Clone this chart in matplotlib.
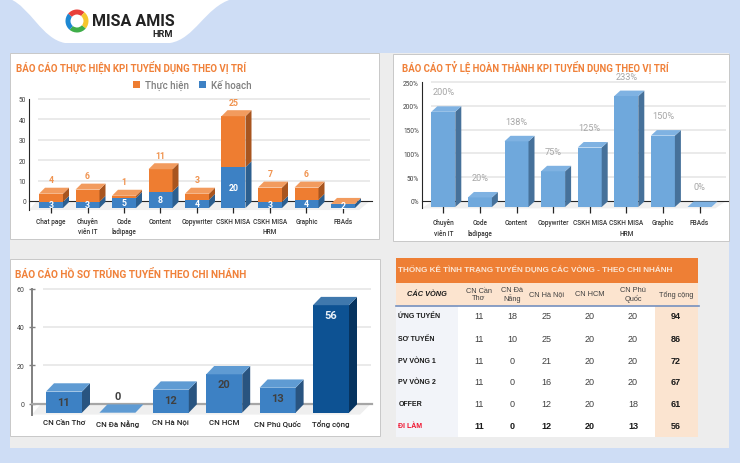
import matplotlib
matplotlib.use("Agg")
import matplotlib.pyplot as plt
from matplotlib.patches import Polygon, Rectangle, PathPatch, Wedge
from matplotlib.path import Path

plt.rcParams['font.family'] = ['Roboto', 'DejaVu Sans']

# chart 1
kpi_positions = ["Chat page", "Chuyên\nviên IT", "Code\nladipage", "Content", "Copywriter",
                 "CSKH MISA", "CSKH MISA\nHRM", "Graphic", "FBAds"]
kpi_plan = [3, 3, 5, 8, 4, 20, 3, 4, 2]
kpi_done = [4, 6, 1, 11, 3, 25, 7, 6, 0]
kpi_ticks = [0, 10, 20, 30, 40, 50]

# chart 2
rate_positions = ["Chuyên\nviên IT", "Code\nladipage", "Content", "Copywriter", "CSKH MISA",
                  "CSKH MISA\nHRM", "Graphic", "FBAds"]
rate_values = [200, 20, 138, 75, 125, 233, 150, 0]
rate_ticks = [0, 50, 100, 150, 200, 250]

# chart 3
branches = ["CN Cần Thơ", "CN Đà Nẵng", "CN Hà Nội", "CN HCM", "CN Phú Quốc", "Tổng cộng"]
hired = [11, 0, 12, 20, 13, 56]
hired_ticks = [0, 20, 40, 60]

# table
table_title = "THỐNG KÊ TÌNH TRẠNG TUYỂN DỤNG CÁC VÒNG - THEO CHI NHÁNH"
table_cols = ["CN Cần\nThơ", "CN Đà\nNẵng", "CN Hà Nội", "CN HCM", "CN Phú\nQuốc", "Tổng cộng"]
table_rows = ["ỨNG TUYỂN", "SƠ TUYỂN", "PV VÒNG 1", "PV VÒNG 2", "OFFER", "ĐI LÀM"]
table_vals = [[11, 18, 25, 20, 20, 94],
              [11, 10, 25, 20, 20, 86],
              [11, 0, 21, 20, 20, 72],
              [11, 0, 16, 20, 20, 67],
              [11, 0, 12, 20, 18, 61],
              [11, 0, 12, 20, 13, 56]]

W, H = 740, 464
ORANGE = "#EE7D31"
BLUE = "#3D81C4"
ARIAL = ['Liberation Sans', 'DejaVu Sans']

fig = plt.figure(figsize=(W / 100, H / 100), dpi=100, facecolor="#CEDDF5")
bg = fig.add_axes([0, 0, 1, 1])
bg.set_xlim(0, W)
bg.set_ylim(H, 0)
bg.axis("off")


def box(x0, y0, x1, y1, color, edge="none", lw=0, z=1):
    bg.add_patch(Rectangle((x0, y0), x1 - x0, y1 - y0, facecolor=color, edgecolor=edge, linewidth=lw, zorder=z))


def px_axes(left, right, top, bottom, x0_px, x_step, y0_px, y_scale):
    # axes placed in pixels, x = category index, y = value
    ax = fig.add_axes([left / W, 1 - bottom / H, (right - left) / W, (bottom - top) / H])
    ax.patch.set_alpha(0)
    ax.set_xlim((left - x0_px) / x_step, (right - x0_px) / x_step)
    ax.set_ylim((y0_px - bottom) / y_scale, (y0_px - top) / y_scale)
    for s in ["top", "right"]:
        ax.spines[s].set_visible(False)
    return ax


def bar3d(ax, x, y0, y1, w, dx, dy, front, side, top=None, z=3):
    ax.bar(x, y1 - y0, w, bottom=y0, color=front, zorder=z, linewidth=0)
    ax.add_patch(Polygon([(x + w / 2, y0), (x + w / 2 + dx, y0 + dy), (x + w / 2 + dx, y1 + dy), (x + w / 2, y1)],
                         facecolor=side, edgecolor="none", zorder=z))
    if top:
        ax.add_patch(Polygon([(x - w / 2, y1), (x + w / 2, y1), (x + w / 2 + dx, y1 + dy), (x - w / 2 + dx, y1 + dy)],
                             facecolor=top, edgecolor="none", zorder=z + 0.5))


def style_axis(ax, yticks, ylabels, xlabels, grid_from, grid_to, floor, tick_len, axis_color, fs, xpad=2.6):
    ax.hlines(yticks[1:], grid_from, grid_to, color="#E6E6E6", lw=1.2, zorder=1)
    ax.spines["bottom"].set_position(("data", 0))
    ax.spines["bottom"].set_color(axis_color)
    ax.spines["left"].set_color(axis_color)
    ax.spines["left"].set_bounds(floor, yticks[-1])
    ax.set_yticks(yticks, ylabels)
    ax.set_xticks(range(len(xlabels)), xlabels)
    ax.tick_params(axis="y", length=0, labelsize=fs, labelcolor="#404040", pad=2)
    ax.tick_params(axis="x", length=tick_len * 0.72, width=0.9, color=axis_color, labelsize=fs,
                   labelcolor="#333333", pad=xpad)
    for lab in ax.get_xticklabels():
        lab.set_linespacing(1.45)
        lab.set_fontweight("medium")


# backgrounds and panels
box(10, 54, 729, 449, "#EDEDED", z=0)
for x0, y0, x1, y1 in [(10, 54, 379, 240), (393, 55, 729, 242), (10, 260, 380, 437)]:
    box(x0, y0, x1, y1, "white", edge="#C8C8C8", lw=0.7)

# logo tab
tab = Path([(10, 0), (30, 8), (42, 40), (65, 44), (170, 44), (195, 40), (205, 8), (232, 0), (10, 0)],
           [Path.MOVETO, Path.CURVE4, Path.CURVE4, Path.CURVE4, Path.LINETO,
            Path.CURVE4, Path.CURVE4, Path.CURVE4, Path.CLOSEPOLY])
bg.add_patch(PathPatch(tab, facecolor="white", edgecolor="none", zorder=1))
for a0, a1, c in [(40, 130, "#3FAE49"), (130, 220, "#1E88D2"), (220, 310, "#E8403A"), (310, 400, "#F6C62D")]:
    bg.add_patch(Wedge((77, 22), 11.5, a0, a1, width=5, facecolor=c, edgecolor="none", zorder=2))
bg.text(92, 22, "MISA AMIS", fontsize=11.6, fontweight="bold", color="#222222", va="center", ha="left", zorder=2)
bg.text(173, 34.5, "HRM", fontsize=6.6, fontweight="bold", color="#222222", va="center", ha="right", zorder=2)

# titles
title_kw = dict(fontweight="bold", color="#F0813A", va="center", ha="left", zorder=2)
bg.text(15.5, 67.5, "BÁO CÁO THỰC HIỆN KPI TUYỂN DỤNG THEO VỊ TRÍ", fontsize=7.0, **title_kw)
bg.text(402.5, 67.5, "BÁO CÁO TỶ LỆ HOÀN THÀNH KPI TUYỂN DỤNG THEO VỊ TRÍ", fontsize=6.95, **title_kw)
bg.text(15, 274.5, "BÁO CÁO HỒ SƠ TRÚNG TUYỂN THEO CHI NHÁNH", fontsize=7.3, **title_kw)

# chart 1: stacked bars
scale1, step1 = 2.04, 36.5
ax1 = px_axes(29, 372, 92, 215, 51, step1, 202, scale1)
floor1 = -7 / scale1
dx1, dy1 = 6 / step1, 6 / scale1
w1 = 24 / step1
ax1.add_patch(Polygon([(-22 / step1, floor1 - 1), (-14 / step1, 0), (319 / step1, 0), (308 / step1, floor1 - 1)],
                      facecolor="#EFEFEF", edgecolor="none", zorder=0.5))
style_axis(ax1, kpi_ticks, [str(t) for t in kpi_ticks], kpi_positions, -13 / step1, 319 / step1, floor1 - 1,
           12, "#262626", 4.7)
for i, (plan, done) in enumerate(zip(kpi_plan, kpi_done)):
    mid = floor1 + plan
    end = mid + done
    bar3d(ax1, i, floor1, mid, w1, dx1, dy1, BLUE, "#2C5F8F")
    bar3d(ax1, i, mid, end, w1, dx1, dy1, ORANGE, "#A8551F", top="#F29B5E", z=3.2)
    ax1.text(i, floor1 + plan / 2, str(plan), color="white", fontsize=6.3, fontweight="bold",
             ha="center", va="center", zorder=5)
    if done > 0:
        ax1.annotate(str(done), (i, end + dy1), xytext=(0, 8), textcoords="offset pixels", color="#F0934F",
                     fontsize=6.3, fontweight="bold", ha="center", va="center", zorder=5)
lg = [Rectangle((0, 0), 1, 1, facecolor=ORANGE), Rectangle((0, 0), 1, 1, facecolor=BLUE)]
ax1.legend(lg, ["Thực hiện", "Kế hoạch"], ncol=2, frameon=False, loc="center",
           bbox_to_anchor=(192.5 / W, 1 - 85.5 / H), bbox_transform=fig.transFigure,
           labelcolor="#7F7F7F", handlelength=0.72, handleheight=0.72, handletextpad=0.55,
           columnspacing=1.0, prop={"size": 7, "weight": "medium"})

# chart 2: rate bars
scale2, step2 = 0.476, 36.6
ax2 = px_axes(421.7, 728, 76, 214, 443.3, step2, 202, scale2)
floor2 = -6 / scale2
dx2, dy2 = 6 / step2, 5.5 / scale2
w2 = 24 / step2
ax2.add_patch(Polygon([(-21.6 / step2, floor2 - 3), (-11 / step2, 0), (283 / step2, 0), (272 / step2, floor2 - 3)],
                      facecolor="#EFEFEF", edgecolor="none", zorder=0.5))
style_axis(ax2, rate_ticks, [f"{t}%" for t in rate_ticks], rate_positions, -12 / step2, 283 / step2, floor2 - 3,
           12, "#262626", 4.7, xpad=3.6)
for i, v in enumerate(rate_values):
    bar3d(ax2, i, floor2, floor2 + v, w2, dx2, dy2, "#6FA8DC", "#46719A", top="#7FB2E2")
    ax2.annotate(f"{v}%", (i, floor2 + v + dy2), xytext=(0, 14.5), textcoords="offset pixels", color="#A6A6A6",
                 fontsize=6.6, ha="center", va="center", zorder=5)

# chart 3: branches
scale3, step3 = 1.92, 53.4
ax3 = px_axes(32.3, 372, 280, 424, 64, step3, 404.7, scale3)
floor3 = -9 / scale3
dx3, dy3 = 8 / step3, 8.3 / scale3
w3 = 36 / step3
ax3.add_patch(Polygon([(-32 / step3, floor3 - 1), (-23 / step3, 0), (307 / step3, 0), (296 / step3, floor3 - 1)],
                      facecolor="#EFEFEF", edgecolor="none", zorder=0.5))
style_axis(ax3, hired_ticks, [str(t) for t in hired_ticks], branches, -21 / step3, 307 / step3, floor3 - 1,
           9, "#A6A6A6", 5.6)
ax3.spines["bottom"].set_linewidth(1.6)
ax3.spines["left"].set_linewidth(1.4)
ax3.spines["left"].set_color("#808080")
ax3.tick_params(axis="y", length=5, width=1, color="#808080", direction="inout", pad=3, labelsize=5)
ax3.tick_params(axis="x", length=0, pad=11, labelsize=5.7, labelcolor="#1F1F1F")
for i, v in enumerate(hired):
    last = i == len(hired) - 1
    front = "#0D5293" if last else BLUE
    side = "#06335F" if last else "#295480"
    top = "#3F78AD" if last else "#5F9BD3"
    bar3d(ax3, i, floor3, floor3 + v, w3, dx3, dy3, front, side, top=top)
    off = 17 if v == 0 else -10
    ax3.annotate(str(v), (i, floor3 + v), xytext=(0, off), textcoords="offset pixels",
                 color="#E8F0F8" if last else "#404040", fontsize=8, fontweight="bold",
                 ha="center", va="center", zorder=5)

# table
box(396, 259, 698, 438, "white")
box(396, 284, 698, 307, "#FCE4CF")
box(396, 259, 698, 284, "#EE7F35")
box(396, 307, 458, 438, "#F2F4F9")
box(655, 307, 698, 438, "#FBE4D0")
bg.plot([396, 699], [307, 307], color="#7590BF", lw=1.2, zorder=2)
bg.text(398.5, 270.5, table_title, fontsize=5.9, fontweight="bold", family=ARIAL, color="#FBE6D5",
        va="center", ha="left", zorder=3)
bg.text(427, 295, "CÁC VÒNG", fontsize=5.3, fontweight="bold", style="italic", family=ARIAL, color="#1A1A1A",
        ha="center", va="center", zorder=3)
col_x = [479, 512, 546.7, 589.7, 633, 676]
row_y = [317, 339.7, 362, 383, 405, 427]
for x, name in zip(col_x, table_cols):
    bg.text(x, 295, name, fontsize=5.3, family=ARIAL, color="#404040", ha="center", va="center",
            linespacing=1.15, zorder=3)
for r, (y, name, vals) in enumerate(zip(row_y, table_rows, table_vals)):
    last = r == len(table_rows) - 1
    bg.text(398.5, y - 0.5, name, fontsize=5.0, fontweight="bold", family=ARIAL,
            color="#F0142F" if last else "#1A1A1A", ha="left", va="center", zorder=3)
    for c, (x, v) in enumerate(zip(col_x, vals)):
        strong = last or c == len(vals) - 1
        bg.text(x, y, str(v), fontsize=6.5, fontweight="bold" if strong else "normal", family=ARIAL,
                color="#1A1A1A" if strong else "#404040", ha="center", va="center", zorder=3)

fig.savefig("out.png", dpi=100, facecolor=fig.get_facecolor())
